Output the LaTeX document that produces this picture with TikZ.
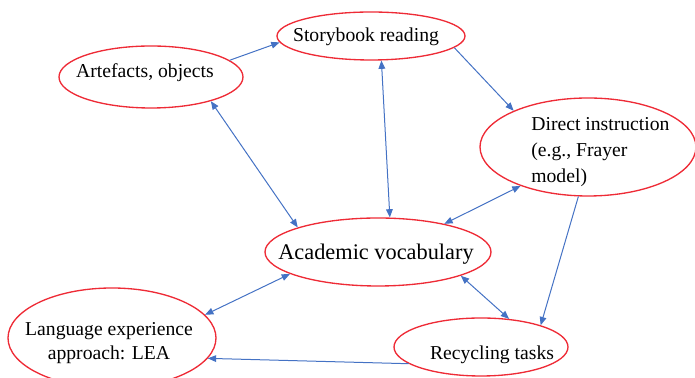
\documentclass[tikz,border=0pt]{standalone}
\usepackage{fontspec}
\setmainfont{Liberation Serif}
\usetikzlibrary{shapes.geometric,arrows.meta}
\definecolor{bubblered}{HTML}{EE2B36}
\definecolor{linkblue}{HTML}{4472C4}
\begin{document}
\begin{tikzpicture}[x=0.6pt,y=-0.6pt,
  bubble/.style 2 args={ellipse,draw=bubblered,line width=0.8pt,inner sep=0pt,
    minimum width=#1*1.2pt,minimum height=#2*1.2pt},
  words/.style={inner sep=0pt,font=\fontsize{11.8}{15.5}\selectfont},
  link/.style={draw=linkblue,line width=0.6pt,
    -{Triangle[length=5pt,width=4pt]}},
  both/.style={link,{Triangle[length=5pt,width=4pt]}-{Triangle[length=5pt,width=4pt]}}]
\useasboundingbox (0,0) rectangle (695,378);
% the six activities
\foreach \name/\x/\y/\rx/\ry in {art/151/77/92/31, story/371/36/94/24,
  direct/588/147/108/49, acad/378/252/113/34, lea/112/338/104/50,
  recyc/481/347/87/29}
  \node[bubble={\rx}{\ry}] (\name) at (\x,\y) {};
% their texts
\node[words] (art-t) at (145,73) {Artefacts, objects};
\node[words] (story-t) at (366,37) {Storybook reading};
\node[words,align=left,anchor=west] (direct-t) at (531,152) {Direct instruction\\(e.g., Frayer\\model)};
\node[words,font=\fontsize{13.4}{16}\selectfont] (acad-t) at (376,254) {Academic vocabulary};
\node[words,align=center,font=\fontsize{11.8}{14.4}\selectfont] (lea-t) at (109,343) {Language experience\\approach: LEA};
\node[words] (recyc-t) at (492,355) {Recycling tasks};
% one way
\draw[link] (art.12) -- (story.184);
\draw[link] (story.-8) -- (direct.154);
\draw[link] (direct.-101) -- (recyc.20);
\draw[link] (recyc.193) -- (lea.-12);
% both ways
\foreach \from/\to in {art.-22/acad.163, story.-67/acad.71, direct.210/acad.23,
  acad.-16/recyc.45, acad.194/lea.14}
  \draw[both] (\from) -- (\to);
\end{tikzpicture}
\end{document}
